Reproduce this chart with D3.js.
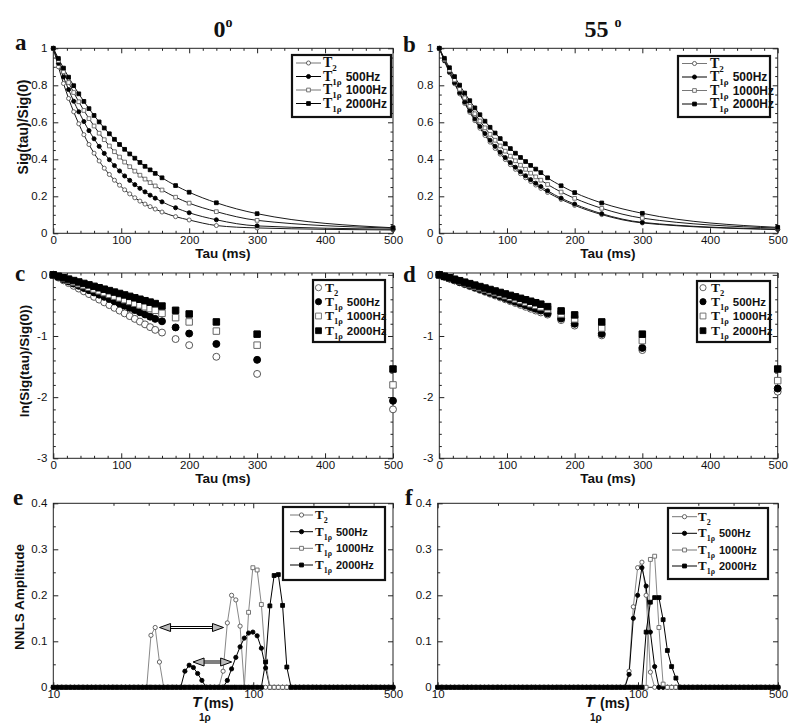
<!DOCTYPE html>
<html><head><meta charset="utf-8">
<script src="https://cdn.jsdelivr.net/npm/d3@7"></script>
<style>body{margin:0;background:#fff}svg{display:block}</style>
</head><body>
<script>
// ---------- DATA ----------
const tau = [0,7.5,15,22.5,30,37.5,45,52.5,60,67.5,75,82.5,90,97.5,105,112.5,120,127.5,135,142.5,150,160,180,200,240,300,500];

// panel a (0 deg) normalized signal
const a_T2   = [1,0.900,0.810,0.729,0.657,0.592,0.533,0.480,0.433,0.391,0.352,0.318,0.287,0.260,0.235,0.213,0.192,0.174,0.158,0.144,0.131,0.115,0.090,0.072,0.042,0.029,0.018];
const a_500  = [1,0.919,0.845,0.777,0.714,0.657,0.604,0.555,0.511,0.470,0.432,0.398,0.366,0.337,0.310,0.286,0.263,0.243,0.224,0.206,0.190,0.170,0.138,0.111,0.073,0.040,0.022];
const a_1000 = [1,0.934,0.873,0.815,0.761,0.711,0.664,0.620,0.580,0.541,0.506,0.472,0.441,0.412,0.385,0.360,0.336,0.314,0.293,0.274,0.256,0.234,0.195,0.163,0.117,0.070,0.028];
const a_2000 = [1,0.945,0.893,0.844,0.798,0.754,0.713,0.674,0.637,0.602,0.569,0.538,0.508,0.480,0.454,0.429,0.406,0.383,0.362,0.343,0.324,0.300,0.258,0.222,0.165,0.106,0.030];
// panel b (55 deg)
const b_T2   = [1,0.932,0.868,0.809,0.754,0.702,0.654,0.609,0.568,0.529,0.493,0.459,0.428,0.399,0.371,0.346,0.322,0.300,0.280,0.261,0.243,0.221,0.183,0.151,0.101,0.056,0.020];
const b_500  = [1,0.934,0.872,0.814,0.760,0.709,0.662,0.618,0.577,0.539,0.503,0.470,0.438,0.409,0.382,0.357,0.333,0.311,0.290,0.271,0.253,0.230,0.190,0.158,0.106,0.059,0.022];
const b_1000 = [1,0.939,0.882,0.829,0.779,0.732,0.687,0.646,0.607,0.570,0.535,0.503,0.472,0.444,0.417,0.392,0.368,0.346,0.325,0.305,0.287,0.264,0.223,0.189,0.135,0.082,0.028];
const b_2000 = [1,0.946,0.895,0.847,0.801,0.758,0.717,0.678,0.641,0.606,0.573,0.542,0.512,0.484,0.458,0.433,0.410,0.388,0.367,0.347,0.328,0.300,0.257,0.220,0.164,0.108,0.032];
// panel c (0 deg) ln signal
const c_T2   = [0,-0.045,-0.09,-0.135,-0.18,-0.225,-0.27,-0.315,-0.36,-0.405,-0.45,-0.495,-0.54,-0.585,-0.63,-0.675,-0.72,-0.765,-0.81,-0.855,-0.9,-0.944,-1.05,-1.15,-1.34,-1.62,-2.2];
const c_500  = [0,-0.036,-0.072,-0.108,-0.144,-0.18,-0.216,-0.252,-0.288,-0.324,-0.36,-0.396,-0.432,-0.468,-0.504,-0.54,-0.576,-0.612,-0.648,-0.684,-0.72,-0.76,-0.86,-0.96,-1.13,-1.39,-2.06];
const c_1000 = [0,-0.029,-0.058,-0.087,-0.116,-0.145,-0.174,-0.203,-0.232,-0.261,-0.29,-0.319,-0.348,-0.377,-0.406,-0.435,-0.464,-0.493,-0.522,-0.551,-0.58,-0.63,-0.70,-0.77,-0.92,-1.15,-1.80];
const c_2000 = [0,-0.023,-0.047,-0.07,-0.094,-0.117,-0.141,-0.164,-0.188,-0.211,-0.235,-0.258,-0.282,-0.305,-0.329,-0.352,-0.376,-0.399,-0.423,-0.446,-0.47,-0.51,-0.58,-0.64,-0.77,-0.97,-1.54];
// panel d (55 deg) ln signal
const d_T2   = [0,-0.031,-0.062,-0.092,-0.123,-0.154,-0.185,-0.215,-0.246,-0.277,-0.308,-0.338,-0.369,-0.4,-0.431,-0.461,-0.492,-0.523,-0.554,-0.584,-0.615,-0.65,-0.74,-0.83,-0.99,-1.23,-1.91];
const d_500  = [0,-0.029,-0.059,-0.088,-0.117,-0.146,-0.176,-0.205,-0.234,-0.263,-0.293,-0.322,-0.351,-0.38,-0.41,-0.439,-0.468,-0.497,-0.527,-0.556,-0.585,-0.63,-0.715,-0.80,-0.965,-1.195,-1.86];
const d_1000 = [0,-0.026,-0.053,-0.079,-0.105,-0.131,-0.158,-0.184,-0.21,-0.236,-0.263,-0.289,-0.315,-0.341,-0.368,-0.394,-0.42,-0.446,-0.473,-0.499,-0.525,-0.56,-0.64,-0.72,-0.87,-1.075,-1.73];
const d_2000 = [0,-0.024,-0.048,-0.072,-0.096,-0.12,-0.144,-0.168,-0.192,-0.216,-0.24,-0.264,-0.288,-0.312,-0.336,-0.36,-0.384,-0.408,-0.432,-0.456,-0.48,-0.52,-0.59,-0.655,-0.77,-0.97,-1.54];

// NNLS T1rho grid (ms)
const t1p = [10.00,10.50,11.03,11.58,12.16,12.77,13.41,14.08,14.79,15.53,
16.31,17.13,17.98,18.88,19.83,20.82,21.87,22.96,24.11,25.32,
26.59,27.92,29.32,30.79,32.33,33.95,35.65,37.44,39.31,41.28,
43.35,45.52,47.80,50.19,52.71,55.35,58.12,61.03,64.09,67.30,
70.67,74.21,77.93,81.83,85.93,90.24,94.76,99.57,104.6,109.8,
115.3,121.1,127.2,133.5,140.2,147.2,154.6,162.4,170.5,179.1,
188.0,197.5,207.4,217.8,228.7,240.2,252.2,264.8,278.1,292.0,
306.6,322.0,338.1,355.1,372.9,391.6,411.2,431.8,453.4,476.2,
500.0];
// panel e (0 deg) NNLS amplitudes
const e_T2 = [0,0,0,0,0,0,0,0,0,0, 0,0,0,0,0,0,0,0,0,0, 0,0,0,0.113,0.13,0.055,0,0,0,0, 0,0,0,0,0,0,0,0,0,0,
0.035,0.14,0.2,0.19,0.133,0,0,0,0,0, 0,0,0,0,0,0,0,0,0,0, 0,0,0,0,0,0,0,0,0,0, 0,0,0,0,0,0,0,0,0,0, 0];
const e_500 = [0,0,0,0,0,0,0,0,0,0, 0,0,0,0,0,0,0,0,0,0, 0,0,0,0,0,0,0,0,0,0, 0,0.035,0.048,0.043,0.03,0.015,0,0,0,0,
0,0.015,0.04,0.065,0.088,0.107,0.118,0.12,0.112,0.085, 0.042,0,0,0,0,0,0,0,0,0, 0,0,0,0,0,0,0,0,0,0, 0,0,0,0,0,0,0,0,0,0, 0];
const e_1000 = [0,0,0,0,0,0,0,0,0,0, 0,0,0,0,0,0,0,0,0,0, 0,0,0,0,0,0,0,0,0,0, 0,0,0,0,0,0,0,0,0,0,
0,0,0,0,0,0,0.163,0.26,0.255,0.18, 0.057,0,0,0,0,0,0,0,0,0, 0,0,0,0,0,0,0,0,0,0, 0,0,0,0,0,0,0,0,0,0, 0];
const e_2000 = [0,0,0,0,0,0,0,0,0,0, 0,0,0,0,0,0,0,0,0,0, 0,0,0,0,0,0,0,0,0,0, 0,0,0,0,0,0,0,0,0,0,
0,0,0,0,0,0,0,0,0,0, 0.055,0.177,0.243,0.245,0.178,0.044,0,0,0,0, 0,0,0,0,0,0,0,0,0,0, 0,0,0,0,0,0,0,0,0,0, 0];
// panel f (55 deg)
const f_T2 = [0,0,0,0,0,0,0,0,0,0, 0,0,0,0,0,0,0,0,0,0, 0,0,0,0,0,0,0,0,0,0, 0,0,0,0,0,0,0,0,0,0,
0,0,0,0,0,0.035,0.175,0.26,0.272,0.2, 0.033,0,0,0,0,0,0,0,0,0, 0,0,0,0,0,0,0,0,0,0, 0,0,0,0,0,0,0,0,0,0, 0];
const f_500 = [0,0,0,0,0,0,0,0,0,0, 0,0,0,0,0,0,0,0,0,0, 0,0,0,0,0,0,0,0,0,0, 0,0,0,0,0,0,0,0,0,0,
0,0,0,0,0,0.028,0.15,0.2,0.26,0.22, 0.12,0.045,0,0,0,0,0,0,0,0, 0,0,0,0,0,0,0,0,0,0, 0,0,0,0,0,0,0,0,0,0, 0];
const f_1000 = [0,0,0,0,0,0,0,0,0,0, 0,0,0,0,0,0,0,0,0,0, 0,0,0,0,0,0,0,0,0,0, 0,0,0,0,0,0,0,0,0,0,
0,0,0,0,0,0,0,0,0,0, 0.278,0.285,0.13,0.007,0,0,0,0,0,0, 0,0,0,0,0,0,0,0,0,0, 0,0,0,0,0,0,0,0,0,0, 0];
const f_2000 = [0,0,0,0,0,0,0,0,0,0, 0,0,0,0,0,0,0,0,0,0, 0,0,0,0,0,0,0,0,0,0, 0,0,0,0,0,0,0,0,0,0,
0,0,0,0,0,0,0,0,0,0.12, 0.185,0.195,0.195,0.147,0.08,0.045,0.02,0,0,0, 0,0,0,0,0,0,0,0,0,0, 0,0,0,0,0,0,0,0,0,0, 0];
// arrows in panel e: [from T, to T, amplitude]
const arrowsE = [[34,71,0.13],[50,78,0.055]];

// legend text
const legSub = ["2","1ρ","1ρ","1ρ"];
const legSuffix = ["","500Hz","1000Hz","2000Hz"];
// ticks
const tauTicks = [0,100,200,300,400,500];
const tauMinor = [20,40,60,80,120,140,160,180,220,240,260,280,320,340,360,380,420,440,460,480];
const sigTicks = [0,0.2,0.4,0.6,0.8,1];
const sigMinor = [0.05,0.1,0.15,0.25,0.3,0.35,0.45,0.5,0.55,0.65,0.7,0.75,0.85,0.9,0.95];
const lnTicks = [0,-1,-2,-3];
const lnMinor = [-0.2,-0.4,-0.6,-0.8,-1.2,-1.4,-1.6,-1.8,-2.2,-2.4,-2.6,-2.8];
const ampTicks = [0,0.1,0.2,0.3,0.4];
const ampMinor = [0.05,0.15,0.25,0.35];
const t1pTicks = [10,100,500];
const t1pMinor = [20,30,40,50,60,70,80,90,200,300,400];

// ---------- DRAWING ----------
const SANS = "'Liberation Sans', Arial, Helvetica, sans-serif";
const SERIF = "'Liberation Serif', 'Times New Roman', serif";
const svg = d3.select("body").append("svg").attr("width",800).attr("height",727);
svg.append("rect").attr("width",800).attr("height",727).attr("fill","#fff");

const LAY = {
  a:{x0:53.3,x1:393,y0:48.3,y1:233.3},
  b:{x0:439.3,x1:777.7,y0:48.3,y1:233.3},
  c:{x0:53.3,x1:393,y0:273,y1:458.3},
  d:{x0:439.3,x1:777.7,y0:273,y1:458.3},
  e:{x0:53.3,x1:393,y0:503.3,y1:687.3},
  f:{x0:437.7,x1:778,y0:503.3,y1:687.3}
};

const MK = [
  {sym:d3.symbolCircle, fill:"#fff", stroke:"#555", line:"#888"},
  {sym:d3.symbolCircle, fill:"#000", stroke:"#000", line:"#000"},
  {sym:d3.symbolSquare, fill:"#fff", stroke:"#666", line:"#888"},
  {sym:d3.symbolSquare, fill:"#000", stroke:"#000", line:"#000"}
];

function axes(L, xs, ys, xMaj, xMin, yMaj, yMin, xfmt, yfmt){
  const g = svg.append("g");
  const none = ()=>"";
  function mk(axis, tr, vals, size, fmt, pad){
    const a = g.append("g").attr("transform",tr)
      .call(axis.tickValues(vals).tickSize(size).tickPadding(pad).tickFormat(fmt));
    a.select(".domain").remove();
    a.selectAll("line").attr("stroke","#222").attr("stroke-width",1);
    a.selectAll("text").attr("font-family",SANS).attr("font-size",11.5).attr("fill","#111");
  }
  mk(d3.axisBottom(xs), `translate(0,${L.y1})`, xMaj, -5, xfmt, 3);
  mk(d3.axisBottom(xs), `translate(0,${L.y1})`, xMin, -2.5, none, 3);
  mk(d3.axisTop(xs), `translate(0,${L.y0})`, xMaj, -5, none, 3);
  mk(d3.axisTop(xs), `translate(0,${L.y0})`, xMin, -2.5, none, 3);
  mk(d3.axisLeft(ys), `translate(${L.x0},0)`, yMaj, -5, yfmt, 6);
  mk(d3.axisLeft(ys), `translate(${L.x0},0)`, yMin, -2.5, none, 6);
  mk(d3.axisRight(ys), `translate(${L.x1},0)`, yMaj, -5, none, 3);
  mk(d3.axisRight(ys), `translate(${L.x1},0)`, yMin, -2.5, none, 3);
  g.append("rect").attr("x",L.x0).attr("y",L.y0).attr("width",L.x1-L.x0).attr("height",L.y1-L.y0)
    .attr("fill","none").attr("stroke","#222").attr("stroke-width",1);
}

function drawSeries(xsArr, seriesList, xs, ys, opts){
  const g = svg.append("g");
  if (opts.lines){
    seriesList.forEach((vals,k)=>{
      const line = d3.line().x((d,i)=>xs(xsArr[i])).y(d=>ys(d)).curve(opts.curve||d3.curveLinear);
      g.append("path").datum(vals).attr("d",line).attr("fill","none")
        .attr("stroke", opts.lineColor ? opts.lineColor : MK[k].line).attr("stroke-width",opts.lw||1);
    });
  }
  seriesList.forEach((vals,k)=>{
    const sz = MK[k].sym===d3.symbolSquare ? opts.sqSize : opts.cSize;
    const s2 = d3.symbol().type(MK[k].sym).size(sz);
    g.selectAll(null).data(vals).enter().append("path")
      .attr("d", s2)
      .attr("transform",(d,i)=>`translate(${xs(xsArr[i])},${ys(d)})`)
      .attr("fill",MK[k].fill).attr("stroke",MK[k].stroke).attr("stroke-width",opts.mw||0.9);
  });
}

function legend(box, rows, lx0, lx1, mx, tx, withLine, cSize, sqSize, fs){
  const g = svg.append("g");
  g.append("rect").attr("x",box[0]).attr("y",box[1]).attr("width",box[2]).attr("height",box[3])
    .attr("fill","#fff").attr("stroke","#111").attr("stroke-width",2.2);
  rows.forEach((y,k)=>{
    if (withLine) g.append("line").attr("x1",lx0).attr("x2",lx1).attr("y1",y).attr("y2",y)
      .attr("stroke",MK[k].line==="#000"?"#000":"#777").attr("stroke-width",1);
    const sz = MK[k].sym===d3.symbolSquare ? sqSize : cSize;
    g.append("path").attr("d",d3.symbol().type(MK[k].sym).size(sz)())
      .attr("transform",`translate(${mx},${y})`)
      .attr("fill",MK[k].fill).attr("stroke",MK[k].stroke).attr("stroke-width",0.9);
    const t = g.append("text").attr("x",tx).attr("y",y+4).attr("fill","#111");
    t.append("tspan").text("T").attr("font-family",SERIF).attr("font-weight","bold").attr("font-size",fs+2);
    t.append("tspan").text(legSub[k]).attr("font-family",SERIF).attr("font-weight","bold")
      .attr("font-size",fs-3).attr("dy",4);
    if (legSuffix[k]) t.append("tspan").text(legSuffix[k]).attr("font-family",SANS).attr("font-weight","bold")
      .attr("font-size",fs).attr("dy",-4).attr("dx",4);
  });
}

function txt(x,y,s,opt){
  const t = svg.append("text").attr("x",x).attr("y",y).text(s)
    .attr("font-family",opt.f||SANS).attr("font-weight",opt.w||"bold")
    .attr("font-size",opt.s).attr("fill","#111").attr("text-anchor",opt.a||"start");
  if (opt.i) t.attr("font-style","italic");
  return t;
}
function ylab(x,y,s,fs){
  svg.append("text").attr("transform",`translate(${x},${y}) rotate(-90)`).attr("text-anchor","middle")
    .attr("font-family",SANS).attr("font-weight","bold").attr("font-size",fs).attr("fill","#111").text(s);
}
const fmtPlain = d=>String(d);

// ---- panels a, b ----
[["a",[a_T2,a_500,a_1000,a_2000]],["b",[b_T2,b_500,b_1000,b_2000]]].forEach(([key,ser])=>{
  const L = LAY[key];
  const xs = d3.scaleLinear().domain([0,500]).range([L.x0,L.x1]);
  const ys = d3.scaleLinear().domain([0,1]).range([L.y1,L.y0]);
  axes(L,xs,ys,tauTicks,tauMinor,sigTicks,sigMinor,fmtPlain,fmtPlain);
  drawSeries(tau, ser, xs, ys, {lines:true, curve:d3.curveMonotoneX, lineColor:"#1a1a1a", cSize:13, sqSize:14});
});
// ---- panels c, d ----
[["c",[c_T2,c_500,c_1000,c_2000]],["d",[d_T2,d_500,d_1000,d_2000]]].forEach(([key,ser])=>{
  const L = LAY[key];
  const xs = d3.scaleLinear().domain([0,500]).range([L.x0,L.x1]);
  const ys = d3.scaleLinear().domain([-3,0.03]).range([L.y1,L.y0]);
  axes(L,xs,ys,tauTicks,tauMinor,lnTicks,lnMinor,fmtPlain,fmtPlain);
  drawSeries(tau, ser, xs, ys, {lines:false, cSize:38, sqSize:42, mw:1});
});
// ---- panels e, f ----
[["e",[e_T2,e_500,e_1000,e_2000]],["f",[f_T2,f_500,f_1000,f_2000]]].forEach(([key,ser])=>{
  const L = LAY[key];
  const xs = d3.scaleLog().domain([10,500]).range([L.x0,L.x1]);
  const ys = d3.scaleLinear().domain([0,0.4]).range([L.y1,L.y0]);
  axes(L,xs,ys,t1pTicks,t1pMinor,ampTicks,ampMinor,fmtPlain,fmtPlain);
  drawSeries(t1p, ser, xs, ys, {lines:true, cSize:14, sqSize:15});
  if (key==="e"){
    const g = svg.append("g");
    arrowsE.forEach(([t0,t1,v])=>{
      const x0 = xs(t0), x1 = xs(t1), y = ys(v);
      g.append("line").attr("x1",x0+6).attr("x2",x1-6).attr("y1",y).attr("y2",y).attr("stroke","#000").attr("stroke-width",3);
      g.append("line").attr("x1",x0+6).attr("x2",x1-6).attr("y1",y).attr("y2",y).attr("stroke","#fff").attr("stroke-width",1);
      g.append("path").attr("d",`M${x0},${y}L${x0+11},${y-4}L${x0+11},${y+4}Z`).attr("fill","#bbb").attr("stroke","#000").attr("stroke-width",1);
      g.append("path").attr("d",`M${x1},${y}L${x1-11},${y-4}L${x1-11},${y+4}Z`).attr("fill","#bbb").attr("stroke","#000").attr("stroke-width",1);
    });
  }
});

// ---- legends ----
legend([292,55,99,62],[63,76.5,90,103.5],296,321,308.5,323,true,13,14,12);
legend([678,56,92,61],[63.5,77,90.5,104],682,707,694.5,710,true,13,14,12);
legend([313,280,72,62],[287.7,301.7,316,330.7],0,0,318.5,325,false,30,34,11.5);
legend([697,281,73,61],[287.7,301.7,316,330.7],0,0,703,711,false,30,34,11.5);
legend([283,507,102,73],[515,531.7,548.3,565],290,313,301.5,315,true,14,15,11);
legend([668,508,100,71],[516.7,533.3,550,566],672,697,684.5,698,true,14,15,11);

// ---- titles ----
const t0 = svg.append("text").attr("x",223).attr("y",37).attr("text-anchor","middle")
  .attr("font-family",SERIF).attr("font-weight","bold").attr("font-size",24).attr("fill","#111");
t0.append("tspan").text("0");
t0.append("tspan").text("o").attr("font-size",14).attr("dy",-10);
const t55 = svg.append("text").attr("x",603).attr("y",37).attr("text-anchor","middle")
  .attr("font-family",SERIF).attr("font-weight","bold").attr("font-size",24).attr("fill","#111");
t55.append("tspan").text("55 ");
t55.append("tspan").text("o").attr("font-size",14).attr("dy",-10);

// panel letters
[["a",15,50],["b",403,52],["c",15,281],["d",403,282],["e",13,505],["f",405,505]].forEach(([s,x,y])=>
  txt(x,y,s,{f:SERIF,s:23}));

// axis titles
txt(223,258,"Tau (ms)",{s:13.5,a:"middle"});
txt(608,258,"Tau (ms)",{s:13.5,a:"middle"});
txt(223,483,"Tau (ms)",{s:13.5,a:"middle"});
txt(608,483,"Tau (ms)",{s:13.5,a:"middle"});
ylab(28,127,"Sig(tau)/Sig(0)",14);
ylab(29,361,"ln(Sig(tau)/Sig(0))",13.5);
ylab(24,597,"NNLS Amplitude",13.5);
// T1rho labels
[[192,204,199],[585,600,590]].forEach(([xT,xm,xs])=>{
  txt(xT,707,"T",{s:15.5,i:true});
  txt(xm,708,"(ms)",{s:14});
  txt(xs,721,"1ρ",{s:10});
});
</script>
</body></html>
